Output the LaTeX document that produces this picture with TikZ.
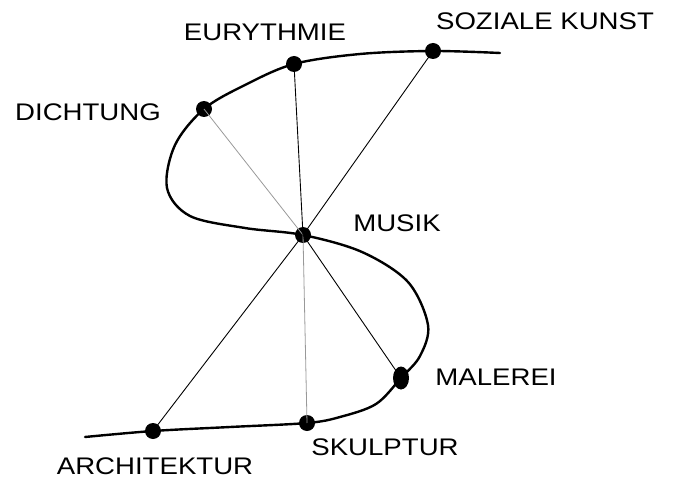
\documentclass[tikz,border=0pt]{standalone}
\usepackage{fontspec}
\setmainfont{Liberation Sans}
\usetikzlibrary{shapes.geometric}
\begin{document}
\begin{tikzpicture}[x=1pt,y=-1pt,
  dot/.style={ellipse,fill=black,inner sep=0pt,minimum width=16pt,minimum height=16pt},
  lbl/.style={font=\fontsize{24}{28}\selectfont, inner sep=0pt, xscale=1.15},
  spoke/.style={line width=0.9pt},
  faint/.style={line width=0.8pt, black!40},
  curve/.style={line width=2.4pt, line cap=round, line join=round}]
\useasboundingbox (0,0) rectangle (682,481);
% named points on the S-curve
\coordinate (s0) at (500,53);
\coordinate (s1) at (360,54);
\coordinate (s2) at (245,85);
\coordinate (s3) at (175,145);
\coordinate (s4) at (167,188);
\coordinate (s5) at (190,216);
\coordinate (s6) at (245,228);
\coordinate (s7) at (362,252);
\coordinate (s8) at (408,282);
\coordinate (s9) at (428,325);
\coordinate (s10) at (420,356);
\coordinate (s11) at (376,404);
\coordinate (s12) at (340,417);
\coordinate (s13) at (230,427);
\coordinate (s14) at (85,437);
\coordinate (pS) at (433,51);
\coordinate (pE) at (294,64);
\coordinate (pD) at (204,109);
\coordinate (pM) at (303,235);
\coordinate (pMa) at (401,378);
\coordinate (pSk) at (307,423);
\coordinate (pA) at (153,431);
\draw[curve] plot[smooth, tension=0.55] coordinates {(s0) (pS) (s1) (pE) (s2) (pD) (s3) (s4) (s5) (s6) (pM) (s7) (s8) (s9) (s10) (pMa) (s11) (s12) (pSk) (s13) (pA) (s14)};
% dots
\node[dot] (soz) at (pS) {};
\node[dot] (eur) at (pE) {};
\node[dot] (dic) at (pD) {};
\node[dot] (mus) at (pM) {};
\node[dot,minimum height=23pt] (mal) at (pMa) {};
\node[dot] (sku) at (pSk) {};
\node[dot] (arc) at (pA) {};
% spokes
\draw[faint] (mus.center) -- (dic.center);
\draw[spoke] (mus.center) -- (eur.center);
\draw[spoke] (mus.center) -- (soz.center);
\draw[spoke] (mus.center) -- (arc.center);
\draw[faint] (mus.center) -- (sku.center);
\draw[spoke] (mus.center) -- (mal.center);
% labels
\node[lbl] (lE) at (265,32) {EURYTHMIE};
\node[lbl] (lS) at (545,21) {SOZIALE KUNST};
\node[lbl] (lD) at (88,112) {DICHTUNG};
\node[lbl] (lM) at (397,223) {MUSIK};
\node[lbl] (lMa) at (496,377) {MALEREI};
\node[lbl] (lSk) at (385,447) {SKULPTUR};
\node[lbl] (lA) at (155,466) {ARCHITEKTUR};
\end{tikzpicture}
\end{document}
